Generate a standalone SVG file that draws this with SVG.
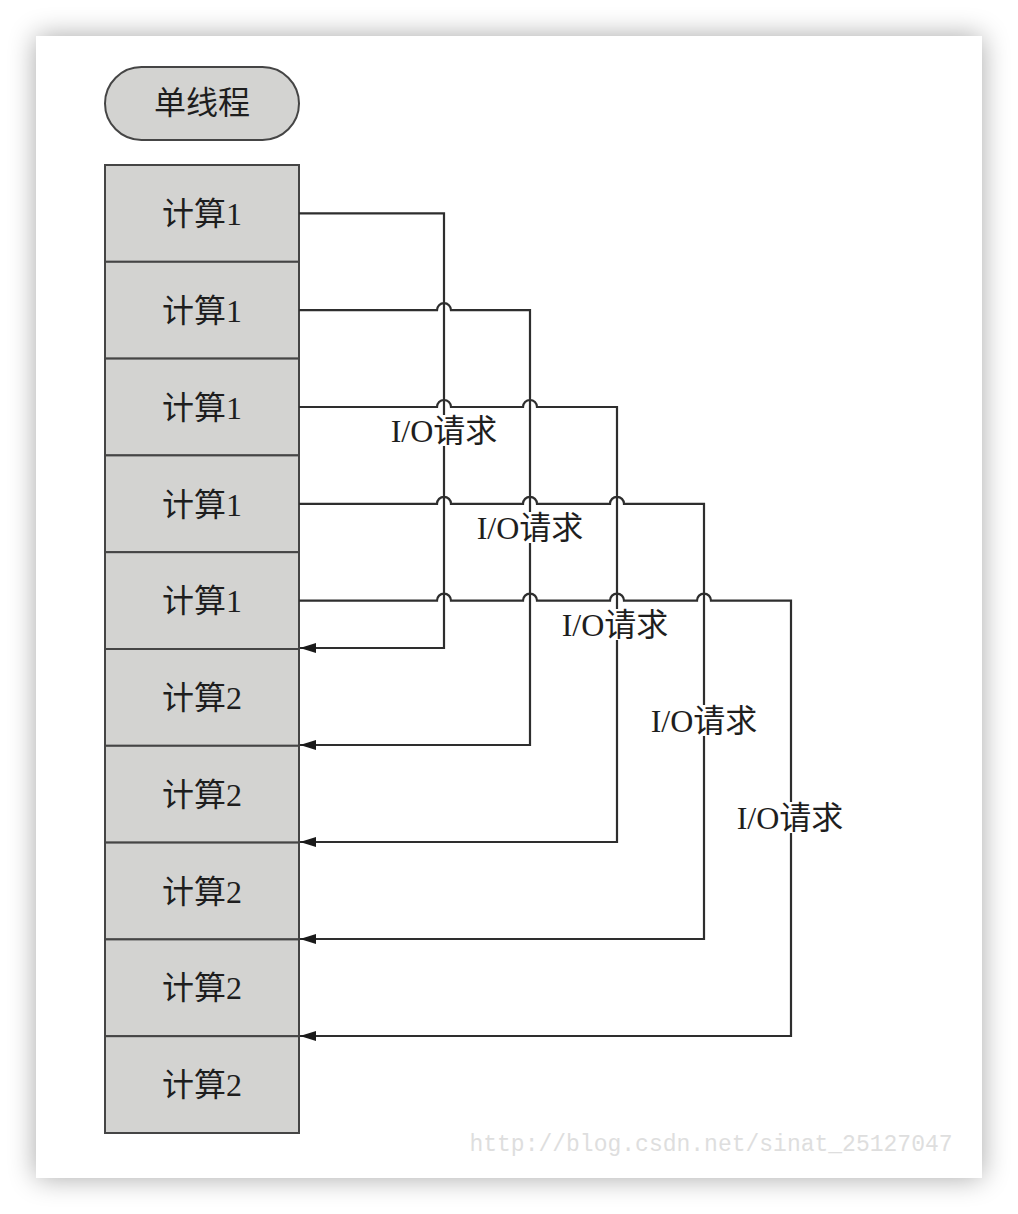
<svg xmlns="http://www.w3.org/2000/svg" width="1018" height="1214" viewBox="0 0 1018 1214">
<defs>
<filter id="sh" x="-10%" y="-10%" width="120%" height="120%">
<feGaussianBlur in="SourceAlpha" stdDeviation="14"/>
<feComponentTransfer><feFuncA type="linear" slope="0.35"/></feComponentTransfer>
<feMerge><feMergeNode/><feMergeNode in="SourceGraphic"/></feMerge>
</filter>
<marker id="ah" viewBox="0 0 16 10" refX="16" refY="5" markerWidth="16" markerHeight="10" markerUnits="userSpaceOnUse" orient="auto">
<path d="M0,0 L16,5 L0,10 Z" fill="#1a1a1a"/>
</marker>
</defs>
<style>
.box{fill:#d3d3d1;stroke:#454545;stroke-width:2}
.t{font-family:"Liberation Serif","Noto Sans CJK SC",serif;font-size:32px;fill:#1e1e1e;text-anchor:middle}
.lbl{font-family:"Liberation Serif","Noto Sans CJK SC",serif;font-size:32px;fill:#1e1e1e;text-anchor:middle}
.ln{fill:none;stroke:#2e2e2e;stroke-width:2.2}
.bg{fill:#fff}
</style>
<rect width="1018" height="1214" fill="#fff"/>
<rect x="36" y="36" width="946" height="1142" fill="#fff" filter="url(#sh)"/>
<text x="711" y="1151" font-family="Liberation Mono, monospace" font-size="23" fill="#dedede" text-anchor="middle">http://blog.csdn.net/sinat_25127047</text>

<g id="title"><rect x="105" y="67" width="194" height="73" rx="36.5" class="box"/><text x="202" y="114" class="t">单线程</text></g>

<g id="c1a"><rect x="105" y="165" width="194" height="96.8" class="box"/><text x="202" y="225" class="t">计算1</text></g>
<g id="c1b"><rect x="105" y="261.8" width="194" height="96.8" class="box"/><text x="202" y="322" class="t">计算1</text></g>
<g id="c1c"><rect x="105" y="358.6" width="194" height="96.8" class="box"/><text x="202" y="419" class="t">计算1</text></g>
<g id="c1d"><rect x="105" y="455.4" width="194" height="96.8" class="box"/><text x="202" y="516" class="t">计算1</text></g>
<g id="c1e"><rect x="105" y="552.2" width="194" height="96.8" class="box"/><text x="202" y="612" class="t">计算1</text></g>
<g id="c2a"><rect x="105" y="649" width="194" height="96.8" class="box"/><text x="202" y="709" class="t">计算2</text></g>
<g id="c2b"><rect x="105" y="745.8" width="194" height="96.8" class="box"/><text x="202" y="806" class="t">计算2</text></g>
<g id="c2c"><rect x="105" y="842.6" width="194" height="96.8" class="box"/><text x="202" y="903" class="t">计算2</text></g>
<g id="c2d"><rect x="105" y="939.4" width="194" height="96.8" class="box"/><text x="202" y="999" class="t">计算2</text></g>
<g id="c2e"><rect x="105" y="1036.2" width="194" height="96.8" class="box"/><text x="202" y="1096" class="t">计算2</text></g>

<g id="connectors">
<path class="ln" d="M299,213.4 H444 V648 H300" marker-end="url(#ah)"/>
<path class="ln" d="M299,310.2 H437 a7,7 0 0 1 14,0 H530 V745 H300" marker-end="url(#ah)"/>
<path class="ln" d="M299,407 H437 a7,7 0 0 1 14,0 H523 a7,7 0 0 1 14,0 H617 V842 H300" marker-end="url(#ah)"/>
<path class="ln" d="M299,503.8 H437 a7,7 0 0 1 14,0 H523 a7,7 0 0 1 14,0 H610 a7,7 0 0 1 14,0 H704 V939 H300" marker-end="url(#ah)"/>
<path class="ln" d="M299,600.6 H437 a7,7 0 0 1 14,0 H523 a7,7 0 0 1 14,0 H610 a7,7 0 0 1 14,0 H697 a7,7 0 0 1 14,0 H791 V1036 H300" marker-end="url(#ah)"/>
<g id="labels">
<rect x="389" y="415" width="110" height="31" class="bg"/><text x="444" y="442" class="lbl">I/O请求</text>
<rect x="475" y="512" width="110" height="31" class="bg"/><text x="530" y="539" class="lbl">I/O请求</text>
<rect x="560" y="609" width="110" height="31" class="bg"/><text x="615" y="636" class="lbl">I/O请求</text>
<rect x="649" y="705" width="110" height="31" class="bg"/><text x="704" y="732" class="lbl">I/O请求</text>
<rect x="735" y="802" width="110" height="31" class="bg"/><text x="790" y="829" class="lbl">I/O请求</text>
</g>
</g>
</svg>
